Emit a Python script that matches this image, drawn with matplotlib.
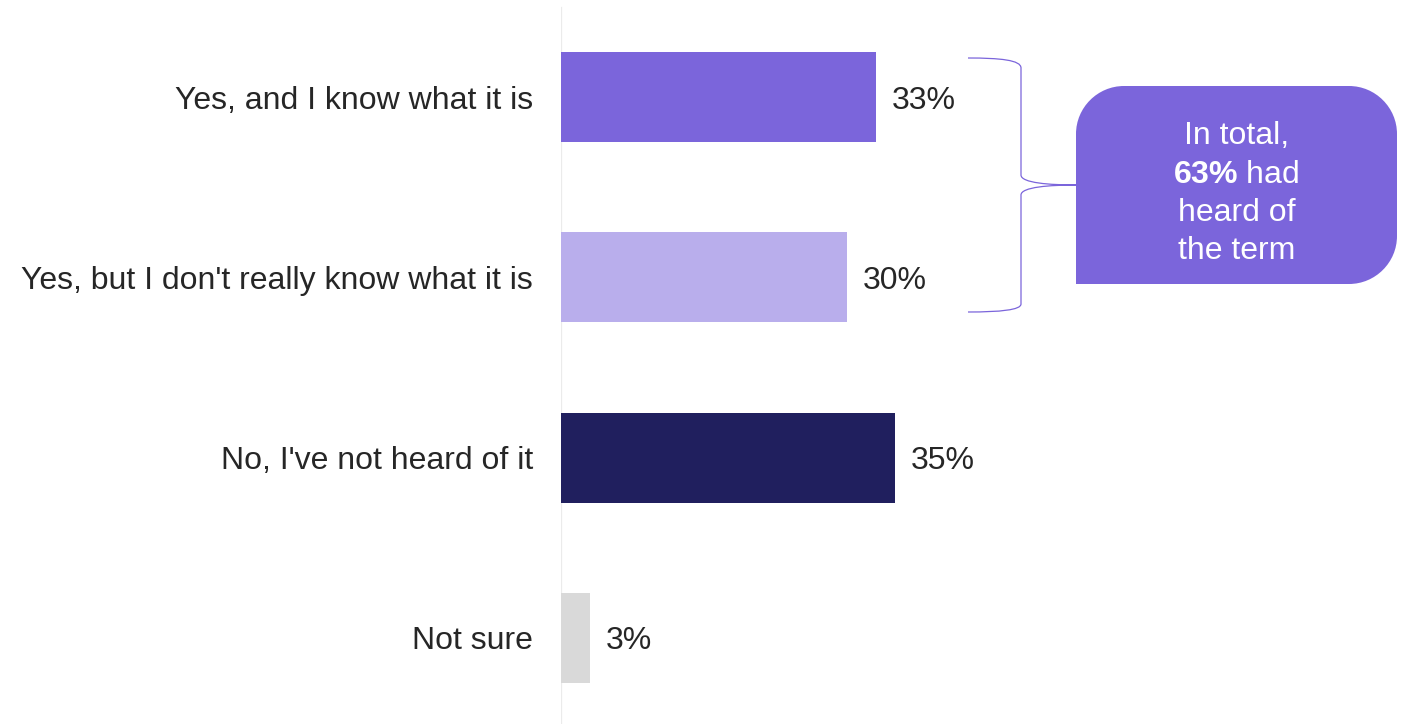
import matplotlib.pyplot as plt
from matplotlib.path import Path
from matplotlib.patches import PathPatch

plt.rcParams['font.family'] = ['Liberation Sans', 'DejaVu Sans']
plt.rcParams['mathtext.fontset'] = 'custom'
plt.rcParams['mathtext.rm'] = 'Liberation Sans'
plt.rcParams['mathtext.bf'] = 'Liberation Sans:bold'

categories = ["Yes, and I know what it is",
              "Yes, but I don't really know what it is",
              "No, I've not heard of it",
              "Not sure"]
values = [33, 30, 35, 3]
colors = ["#7B65DB", "#B9AEEC", "#201F5E", "#D9D9D9"]

W, H = 1407, 724
FS = 23
fig = plt.figure(figsize=(W / 100, H / 100), dpi=100)
ax = fig.add_axes([561 / W, 0, 1 - 561 / W, 1])

pos = list(range(len(categories)))
ax.barh(pos, values, height=0.5, color=colors, zorder=2)
ax.set_xlim(0, (W - 561) / 9.54)
ax.set_ylim(3.477, -0.538)

for p, v in zip(pos, values):
    ax.annotate(f"{v}%", (v, p), xytext=(11.5, 0), textcoords='offset points',
                ha='left', va='center_baseline', fontsize=FS, color='#262626')

ax.set_yticks(pos)
ax.set_yticklabels(categories, fontsize=FS, color='#262626')
ax.tick_params(axis='y', length=0, pad=20)
ax.set_xticks([])
for s in ['top', 'right', 'bottom', 'left']:
    ax.spines[s].set_visible(False)
ax.axvline(0, ymin=0, ymax=1 - 8 / H, color='#EBEBEB', lw=1.6, zorder=1)


def px(x, y):
    return (x / W, 1 - y / H)


# brace
verts = [(968, 58), (1000, 58), (1021, 60), (1021, 68),
         (1021, 175),
         (1021, 183), (1050, 185), (1076, 185),
         (1050, 185), (1021, 187), (1021, 195),
         (1021, 304),
         (1021, 310), (1000, 312), (968, 312)]
codes = [Path.MOVETO, Path.CURVE4, Path.CURVE4, Path.CURVE4,
         Path.LINETO,
         Path.CURVE4, Path.CURVE4, Path.CURVE4,
         Path.CURVE4, Path.CURVE4, Path.CURVE4,
         Path.LINETO,
         Path.CURVE4, Path.CURVE4, Path.CURVE4]
fig.add_artist(PathPatch(Path([px(*v) for v in verts], codes),
                         transform=fig.transFigure, fill=False,
                         edgecolor='#7B65DB', lw=0.9))

# callout box: rounded except bottom-left
x0, x1, y0, y1, r = 1076, 1397, 86, 284, 48
k = 0.55 * r
bv = [(x0, y1), (x0, y0 + r), (x0, y0 + r - k), (x0 + r - k, y0), (x0 + r, y0),
      (x1 - r, y0), (x1 - r + k, y0), (x1, y0 + r - k), (x1, y0 + r),
      (x1, y1 - r), (x1, y1 - r + k), (x1 - r + k, y1), (x1 - r, y1),
      (x0, y1)]
bc = [Path.MOVETO, Path.LINETO, Path.CURVE4, Path.CURVE4, Path.CURVE4,
      Path.LINETO, Path.CURVE4, Path.CURVE4, Path.CURVE4,
      Path.LINETO, Path.CURVE4, Path.CURVE4, Path.CURVE4,
      Path.CLOSEPOLY]
fig.add_artist(PathPatch(Path([px(*v) for v in bv], bc),
                         transform=fig.transFigure, facecolor='#7B65DB',
                         edgecolor='none'))

cx = (x0 + x1) / 2
lines = ["In total,", r"$\bf{63\%}$ had", "heard of", "the term"]
for i, t in enumerate(lines):
    fig.text(*px(cx, 133 + 38.3 * i), t, ha='center', va='center_baseline',
             fontsize=FS, color='white')

fig.savefig("out.png", dpi=100)
